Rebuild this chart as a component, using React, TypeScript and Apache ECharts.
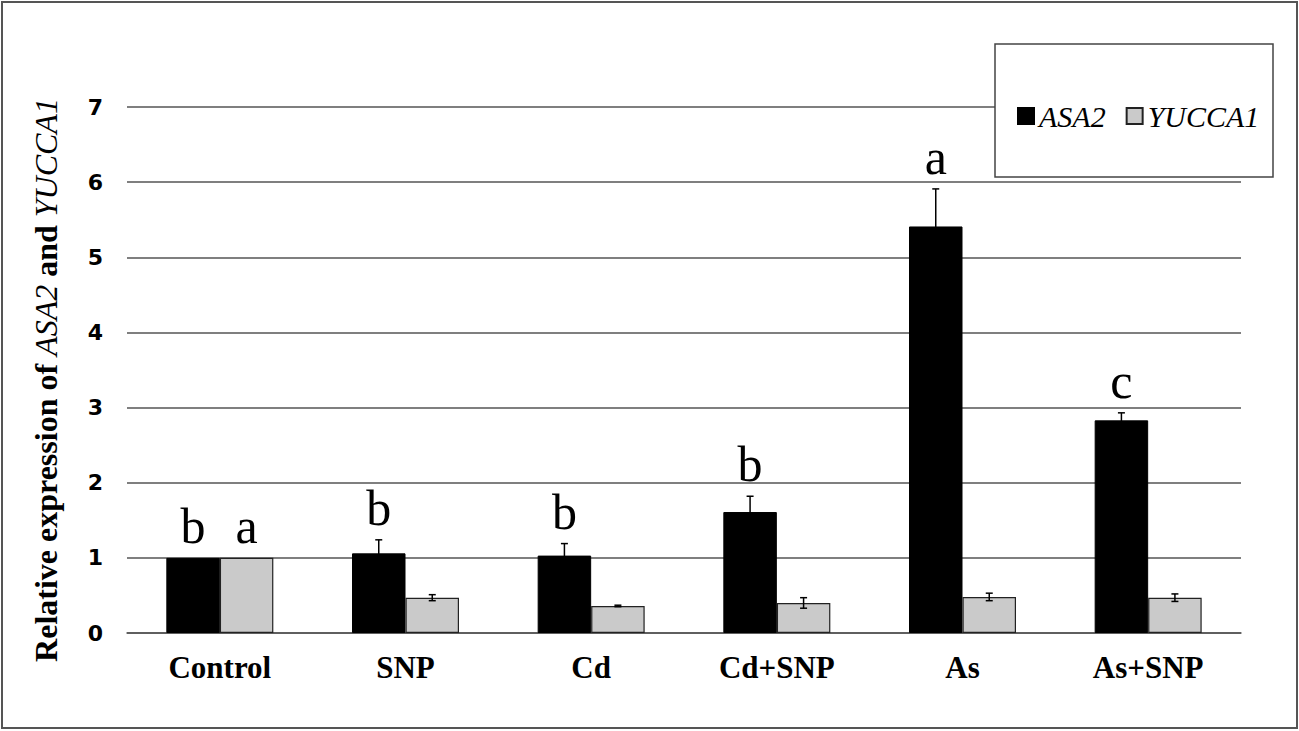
import React, { useEffect, useRef } from "react";
import * as echarts from "echarts";

const categories = ["Control", "SNP", "Cd", "Cd+SNP", "As", "As+SNP"];
const asa2 = [1.0, 1.06, 1.03, 1.61, 5.41, 2.83];
const asa2Err = [0, 0.18, 0.16, 0.21, 0.5, 0.1];
const yucca = [1.0, 0.47, 0.36, 0.4, 0.48, 0.47];
const yuccaErr = [0, 0.04, 0.01, 0.07, 0.05, 0.05];
const asa2Letters = ["b", "b", "b", "b", "a", "c"];
const yuccaLetters = ["a", "", "", "", "", ""];
const yMin = 0;
const yMax = 7;
const yInterval = 1;

const BAR_W = 53.5;
const SERIF = "Liberation Serif";

function makeErrSeries(name: string, means: number[], errs: number[], offset: number) {
  return {
    type: "custom",
    name: name + "-err",
    z: 5,
    silent: true,
    data: categories.map((_, i) => [i, means[i], errs[i]]),
    renderItem: (params: any, api: any) => {
      const x = api.value(0);
      const m = api.value(1);
      const e = api.value(2);
      if (!e) return null;
      const top = api.coord([x, m + e]);
      const bot = api.coord([x, m - e]);
      const cx = top[0] + offset;
      const st = { stroke: "#000", lineWidth: 1.5 };
      return {
        type: "group",
        children: [
          { type: "line", shape: { x1: cx, y1: top[1], x2: cx, y2: bot[1] }, style: st },
          { type: "line", shape: { x1: cx - 3.5, y1: top[1], x2: cx + 3.5, y2: top[1] }, style: st },
          { type: "line", shape: { x1: cx - 3.5, y1: bot[1], x2: cx + 3.5, y2: bot[1] }, style: st },
        ],
      };
    },
  };
}

function makeLetterSeries(name: string, means: number[], errs: number[], letters: string[], offset: number) {
  return {
    type: "custom",
    name: name + "-letters",
    z: 6,
    silent: true,
    data: categories.map((_, i) => [i, means[i] + errs[i]]),
    renderItem: (params: any, api: any) => {
      const t = letters[params.dataIndex];
      if (!t) return null;
      const p = api.coord([api.value(0), api.value(1)]);
      return {
        type: "text",
        x: p[0] + offset,
        y: p[1] - 7,
        style: {
          text: t,
          fontFamily: SERIF,
          fontSize: 50,
          fill: "#000",
          textAlign: "center",
          textVerticalAlign: "bottom",
        },
      };
    },
  };
}

export default function App() {
  const ref = useRef<HTMLDivElement>(null);
  useEffect(() => {
    if (!ref.current) return;
    const chart = echarts.init(ref.current, undefined, { renderer: "svg" });
    chart.setOption({
      animation: false,
      backgroundColor: "#fff",
      grid: { left: 127, right: 58, top: 107, bottom: 98, containLabel: false },
      legend: {
        data: ["ASA2", "YUCCA1"],
        left: 1012,
        top: 96,
        icon: "rect",
        itemWidth: 16,
        itemHeight: 16,
        itemGap: 20,
        z: 10,
        textStyle: { fontFamily: SERIF, fontStyle: "italic", fontSize: 30, color: "#000" },
      },
      graphic: [
        {
          type: "rect",
          z: 0,
          shape: { x: 2, y: 2, width: 1295, height: 726 },
          style: { fill: "none", stroke: "#555", lineWidth: 2 },
        },
        {
          type: "rect",
          z: 8,
          shape: { x: 995, y: 44, width: 278, height: 133 },
          style: { fill: "#fff", stroke: "#444", lineWidth: 1.5 },
        },
      ],
      xAxis: {
        type: "category",
        data: categories,
        axisLine: { show: true, lineStyle: { color: "#555", width: 1.5 } },
        axisTick: { show: false },
        axisLabel: {
          margin: 19,
          fontFamily: SERIF,
          fontWeight: "bold",
          fontSize: 31,
          color: "#000",
        },
      },
      yAxis: {
        type: "value",
        min: yMin,
        max: yMax,
        interval: yInterval,
        axisLine: { show: false },
        axisTick: { show: false },
        splitLine: { show: true, lineStyle: { color: "#555", width: 1.5 } },
        axisLabel: {
          margin: 24,
          fontFamily: "DejaVu Sans",
          fontWeight: "bold",
          fontSize: 22,
          color: "#000",
        },
        name: "{b|Relative expression of }{i|ASA2}{b| and }{i|YUCCA1}",
        nameLocation: "middle",
        nameRotate: 90,
        nameGap: 65,
        nameTextStyle: {
          padding: [0, 20, 0, 0],
          rich: {
            b: { fontFamily: SERIF, fontWeight: "bold", fontSize: 32, color: "#000" },
            i: { fontFamily: SERIF, fontStyle: "italic", fontWeight: "normal", fontSize: 32, color: "#000" },
          },
        },
      },
      series: [
        {
          type: "bar",
          name: "ASA2",
          data: asa2,
          barWidth: BAR_W,
          barGap: "0%",
          itemStyle: { color: "#000", borderColor: "#000", borderWidth: 1 },
        },
        {
          type: "bar",
          name: "YUCCA1",
          data: yucca,
          barWidth: BAR_W,
          barGap: "0%",
          itemStyle: { color: "#cacaca", borderColor: "#222", borderWidth: 1.2 },
        },
        makeErrSeries("ASA2", asa2, asa2Err, -BAR_W / 2),
        makeErrSeries("YUCCA1", yucca, yuccaErr, BAR_W / 2),
        makeLetterSeries("ASA2", asa2, asa2Err, asa2Letters, -BAR_W / 2),
        makeLetterSeries("YUCCA1", yucca, yuccaErr, yuccaLetters, BAR_W / 2),
      ],
    });
    return () => chart.dispose();
  }, []);
  return (
    <div
      ref={ref}
      style={{ position: "fixed", left: 0, top: 0, width: 1299, height: 731, background: "#fff" }}
    />
  );
}
